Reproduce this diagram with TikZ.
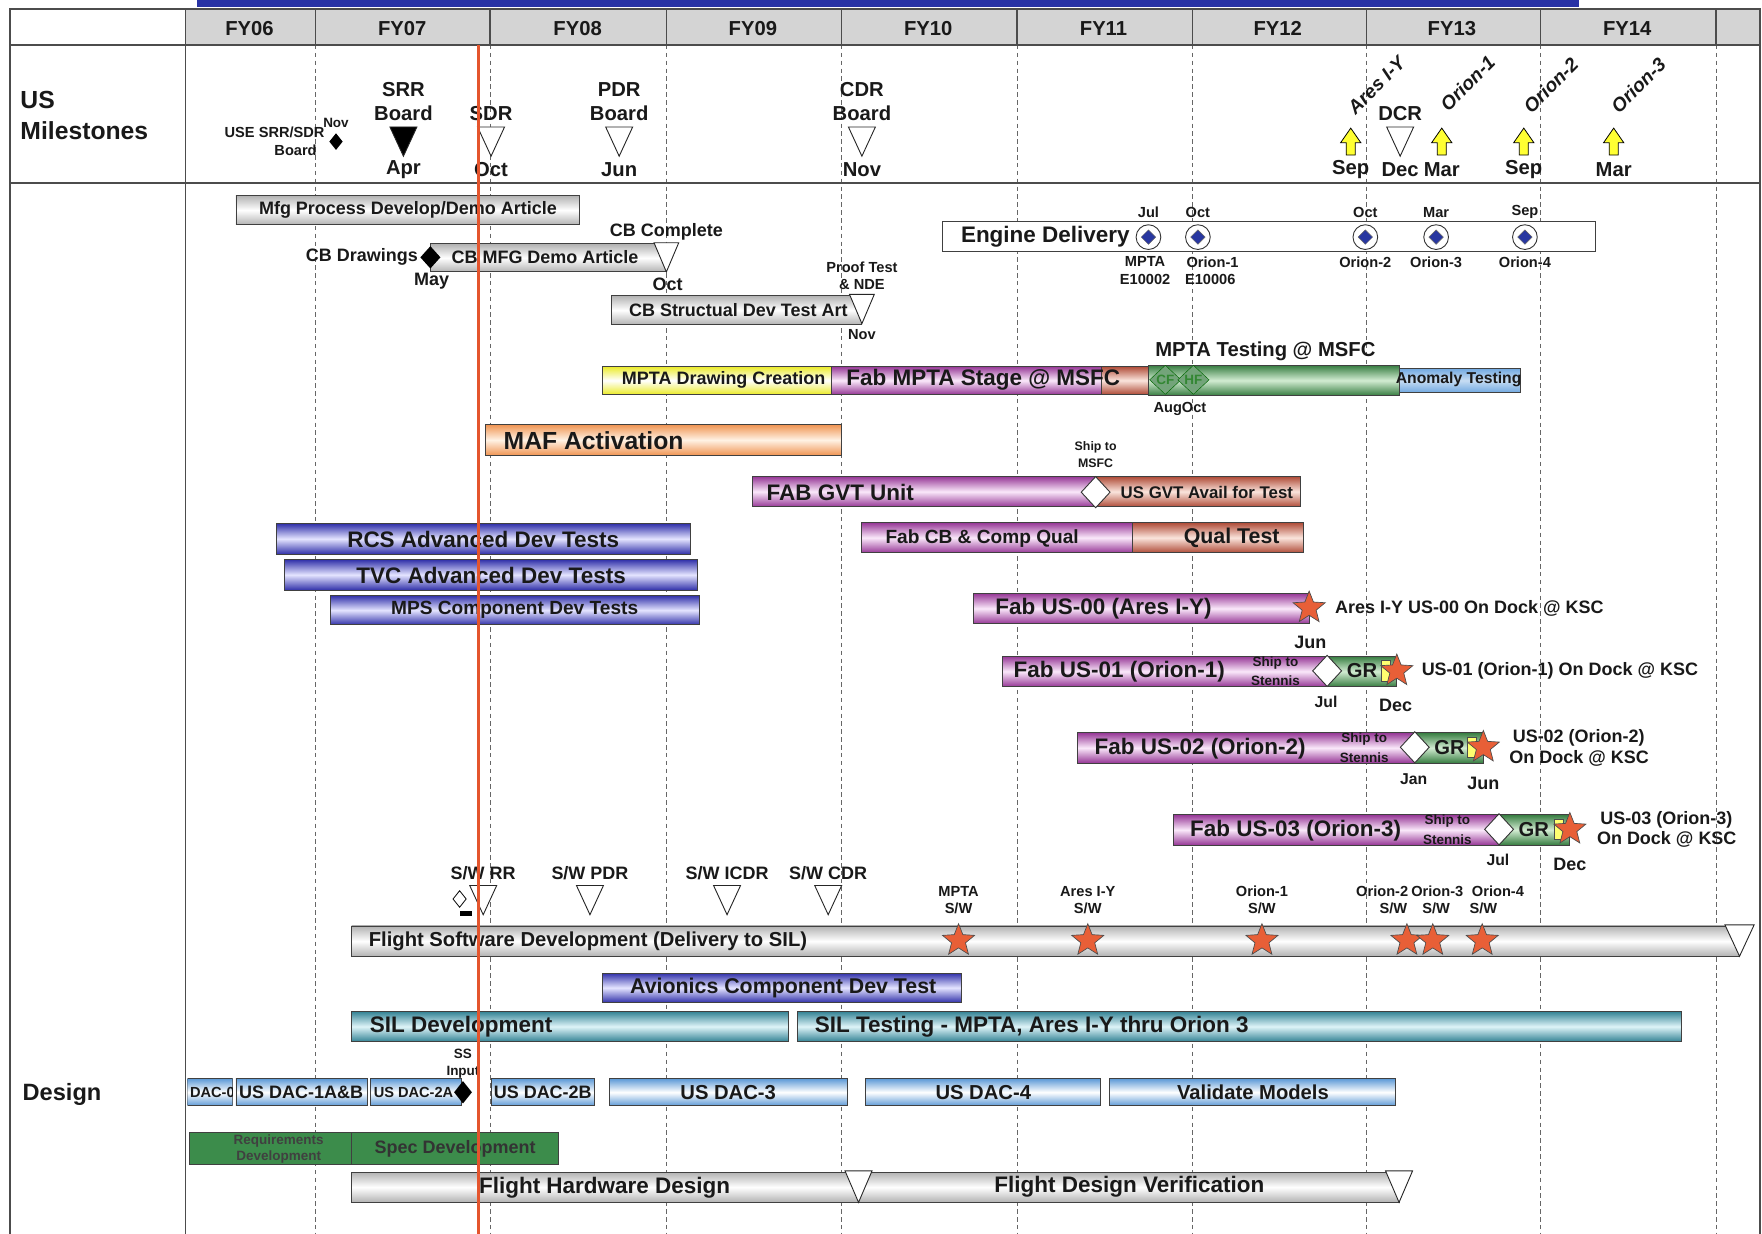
\documentclass[tikz,border=0pt]{standalone}
\usepackage{fontspec}
\setmainfont{Liberation Sans}
\usetikzlibrary{shapes.geometric}
\definecolor{txt}{RGB}{25,25,25}
\definecolor{hdr}{RGB}{212,212,212}
\definecolor{topblue}{RGB}{40,50,165}
\definecolor{redline}{RGB}{228,85,45}
\definecolor{greyE}{RGB}{178,178,178}
\definecolor{purE}{RGB}{150,55,150}
\definecolor{purM}{RGB}{250,232,250}
\definecolor{brnE}{RGB}{175,75,55}
\definecolor{brnM}{RGB}{250,228,220}
\definecolor{grnE}{RGB}{55,125,65}
\definecolor{grnM}{RGB}{210,236,210}
\definecolor{bluE}{RGB}{50,50,170}
\definecolor{bluM}{RGB}{228,228,255}
\definecolor{tealE}{RGB}{50,130,148}
\definecolor{tealM}{RGB}{222,244,248}
\definecolor{lbE}{RGB}{95,155,215}
\definecolor{orE}{RGB}{240,150,85}
\definecolor{orM}{RGB}{255,242,228}
\definecolor{yeE}{RGB}{235,235,40}
\definecolor{anom}{RGB}{115,170,225}
\definecolor{starc}{RGB}{232,95,55}
\definecolor{yarr}{RGB}{255,255,50}
\definecolor{dblue}{RGB}{40,55,160}
\definecolor{reqg}{RGB}{60,140,75}
\newcommand{\tri}[5]{\path[draw=black!85, line width=0.8pt, fill=#5] (#1-#3/2,#2-#4/2) -- (#1+#3/2,#2-#4/2) -- (#1,#2+#4/2) -- cycle;}
\newcommand{\uparr}[2]{\path[draw=black, fill=yarr, line width=0.7pt] (#1-4,#2+12) -- (#1+4,#2+12) -- (#1+4,#2+1) -- (#1+9,#2+1) -- (#1,#2-12) -- (#1-9,#2+1) -- (#1-4,#2+1) -- cycle;}
\tikzset{
  lb/.style={font=\fontsize{#1}{#1}\selectfont\bfseries, inner sep=0pt, text=txt},
  lb/.default=16,
  bar/.style={draw=black!75, line width=0.8pt},
  sh/.style 2 args={bar, top color=#1, bottom color=#1, middle color=#2},
  greyb/.style={sh={greyE}{white}},
  purb/.style={sh={purE}{purM}},
  brnb/.style={sh={brnE}{brnM}},
  grnb/.style={sh={grnE}{grnM}},
  blub/.style={sh={bluE}{bluM}},
  tealb/.style={sh={tealE}{tealM}},
  lbb/.style={sh={lbE}{white}},
  orb/.style={sh={orE}{orM}},
  yeb/.style={sh={yeE}{white}},
  anb/.style={sh={anom}{anom!40}},
  grid/.style={black!60, line width=0.6pt, dash pattern=on 4pt off 3pt},
  frame/.style={black!70, line width=1.3pt},
  starn/.style={star, star points=5, star point ratio=2.3, minimum size=30pt, inner sep=0pt, fill=starc, draw=black!70, line width=0.6pt},
  wdia/.style={diamond, draw=black!80, fill=white, minimum width=26pt, minimum height=28pt, inner sep=0pt, line width=0.8pt},
  rot/.style={font=\fontsize{17}{17}\selectfont\bfseries\itshape, inner sep=0pt, text=txt, rotate=45},
}
\begin{document}
\begin{tikzpicture}[x=1pt,y=-1pt]
\useasboundingbox (0,0) rectangle (1568,1098);
\fill[white] (0,0) rectangle (1568,1098);
% top blue bar
\fill[topblue] (175,0) rectangle (1405,6);
% header
\fill[hdr] (165,8) rectangle (1566,40);
% grid
\foreach \gx in {281,436,593,749,905,1061,1216,1371,1527}{
  \draw[grid] (\gx,40) -- (\gx,1098);
  \draw[frame, line width=1pt] (\gx,8) -- (\gx,40);
}
% frame
\draw[frame] (9,1098) -- (9,8) -- (1566,8) -- (1566,1098);
\draw[frame] (9,40) -- (1566,40);
\draw[frame] (9,163) -- (1566,163);
\draw[frame] (165,8) -- (165,1098);
% header labels
\foreach \fx/\fl in {222/FY06,358/FY07,514/FY08,670/FY09,826/FY10,982/FY11,1137/FY12,1292/FY13,1448/FY14}{
  \node[lb=18] (h\fl) at (\fx,25) {\fl};
}
% row labels
\node[lb=22, anchor=west] (usl1) at (18,89) {US};
\node[lb=22, anchor=west] (usl2) at (18,116) {Milestones};
\node[lb=21, anchor=west] (desl) at (20,974) {Design};

% ---------- milestones row
\node[lb=13, anchor=east] (use1) at (289,118) {USE SRR/SDR};
\node[lb=13, anchor=east] (use2) at (282,134) {Board};
\node[lb=12] (usenov) at (299,109) {Nov};
\node[diamond, fill=black, minimum width=12pt, minimum height=15pt, inner sep=0pt] (usedia) at (299,126) {};
\node[lb=18] (srr1) at (359,80) {SRR};
\node[lb=18] (srr2) at (359,101) {Board};
\tri{359}{126}{24}{26}{black}
\node[lb=18] (srr3) at (359,151) {Apr};
\node[lb=18] (sdr1) at (437,101) {SDR};
\tri{437}{126}{24}{26}{white}
\node[lb=18] (sdr3) at (437,151) {Oct};
\node[lb=18] (pdr1) at (551,80) {PDR};
\node[lb=18] (pdr2) at (551,101) {Board};
\tri{551}{126}{24}{26}{white}
\node[lb=18] (pdr3) at (551,151) {Jun};
\node[lb=18] (cdr1) at (767,80) {CDR};
\node[lb=18] (cdr2) at (767,101) {Board};
\tri{767}{126}{24}{26}{white}
\node[lb=18] (cdr3) at (767,151) {Nov};
\node[lb=18] (dcr1) at (1246,101) {DCR};
\tri{1246}{126}{24}{26}{white}
\node[lb=18] (dcr3) at (1246,151) {Dec};
\uparr{1202}{126}
\uparr{1283}{126}
\uparr{1356}{126}
\uparr{1436}{126}
\node[lb=18] (m1) at (1202,151) {Sep};
\node[lb=18] (m2) at (1283,151) {Mar};
\node[lb=18] (m3) at (1356,151) {Sep};
\node[lb=18] (m4) at (1436,151) {Mar};
\node[rot] (r1) at (1225,76) {Ares I-Y};
\node[rot] (r2) at (1306,74) {Orion-1};
\node[rot] (r3) at (1380,76) {Orion-2};
\node[rot] (r4) at (1458,76) {Orion-3};

% ---------- Mfg / CB rows
\path[greyb] (210,174) rectangle (516,200);
\node[lb=16] (mfg) at (363,187) {Mfg Process Develop/Demo Article};
\node[lb=16] (cbc) at (593,206) {CB Complete};
\path[greyb] (383,217) rectangle (593,242);
\node[lb=16] (cbm) at (485,229) {CB MFG Demo Article};
\tri{593}{229}{22}{26}{white}
\node[diamond, fill=black, minimum width=18pt, minimum height=20pt, inner sep=0pt] (cbd) at (383,229) {};
\node[lb=16, anchor=east] (cbdl) at (372,229) {CB Drawings};
\node[lb=16] (may) at (384,250) {May};
\node[lb=16] (cboct) at (594,253) {Oct};
\node[lb=13] (pt1) at (767,238) {Proof Test};
\node[lb=13] (pt2) at (767,253) {\& NDE};
\path[greyb] (544,263) rectangle (767,289);
\node[lb=16] (cbs) at (657,276) {CB Structual Dev Test Art};
\tri{767}{275}{22}{26}{white}
\node[lb=13] (cbnov) at (767,298) {Nov};

% ---------- Engine delivery
\path[bar, fill=white] (839,197) rectangle (1420,224);
\node[lb=20, anchor=west] (eng) at (855,211) {Engine Delivery};
\foreach \ex/\en in {1022/a,1066/b,1215/c,1278/d,1357/e}{
  \node[circle, draw=black!80, fill=white, minimum size=22pt, inner sep=0pt, line width=0.8pt] (ec\en) at (\ex,211) {};
  \node[diamond, fill=dblue, draw=black!60, minimum size=13pt, inner sep=0pt] (ed\en) at (\ex,211) {};
}
\node[lb=13] (ej1) at (1022,189) {Jul};
\node[lb=13] (ej2) at (1066,189) {Oct};
\node[lb=13] (ej3) at (1215,189) {Oct};
\node[lb=13] (ej4) at (1278,189) {Mar};
\node[lb=13] (ej5) at (1357,189) {Sep};
\node[lb=13] (eb1) at (1019,233) {MPTA};
\node[lb=13] (eb2) at (1019,249) {E10002};
\node[lb=13] (eb3) at (1079,233) {Orion-1};
\node[lb=13] (eb4) at (1077,249) {E10006};
\node[lb=13] (eb5) at (1215,233) {Orion-2};
\node[lb=13] (eb6) at (1278,233) {Orion-3};
\node[lb=13] (eb7) at (1357,233) {Orion-4};

% ---------- MPTA row
\path[yeb] (536,326) rectangle (740,351);
\node[lb=16] (mdc) at (644,338) {MPTA Drawing Creation};
\path[purb] (740,326) rectangle (980,351);
\path[brnb] (980,326) rectangle (1022,351);
\path[grnb] (1022,325) rectangle (1245,352);
\path[anb] (1245,328) rectangle (1353,349);
\node[lb=20] (fms) at (875,338) {Fab MPTA Stage @ MSFC};
\node[diamond, draw=black!60!green, fill=grnE!70, minimum width=28pt, minimum height=26pt, inner sep=0pt] (cfd) at (1037,338) {};
\node[diamond, draw=black!60!green, fill=grnE!70, minimum width=28pt, minimum height=26pt, inner sep=0pt] (hfd) at (1062,338) {};
\node[lb=12, text=black!45!green!60!gray] (cft) at (1037,338) {CF};
\node[lb=12, text=black!45!green!60!gray] (hft) at (1062,338) {HF};
\node[lb=14] (anot) at (1298,338) {Anomaly Testing};
\node[lb=18] (mtm) at (1126,313) {MPTA Testing @ MSFC};
\node[lb=13] (augoct) at (1050,364) {AugOct};

% ---------- MAF
\path[orb] (432,378) rectangle (749,405);
\node[lb=22, anchor=west] (maf) at (448,392) {MAF Activation};

% ---------- GVT
\node[lb=11] (sm1) at (975,398) {Ship to};
\node[lb=11] (sm2) at (975,412) {MSFC};
\path[purb] (670,424) rectangle (975,451);
\path[brnb] (975,424) rectangle (1157,451);
\node[lb=20, anchor=west] (gvt) at (682,438) {FAB GVT Unit};
\node[lb=15] (gvta) at (1074,438) {US GVT Avail for Test};
\node[wdia] (gvtd) at (975,438) {};

% ---------- Fab CB
\path[purb] (767,465) rectangle (1008,492);
\path[brnb] (1008,465) rectangle (1160,492);
\node[lb=17] (fcb) at (874,479) {Fab CB \& Comp Qual};
\node[lb=19] (qt) at (1096,479) {Qual Test};

% ---------- blue dev tests
\path[blub] (246,466) rectangle (614,493);
\node[lb=20] (rcs) at (430,480) {RCS Advanced Dev Tests};
\path[blub] (253,498) rectangle (621,525);
\node[lb=20] (tvc) at (437,512) {TVC Advanced Dev Tests};
\path[blub] (294,530) rectangle (622,556);
\node[lb=17] (mps) at (458,543) {MPS Component Dev Tests};

% ---------- US-00
\path[purb] (866,528) rectangle (1165,555);
\node[lb=20] (us0) at (982,542) {Fab US-00 (Ares I-Y)};
\node[starn] (s0) at (1165,541) {};
\node[lb=16, anchor=west] (us0d) at (1188,541) {Ares I-Y US-00 On Dock @ KSC};
\node[lb=16] (us0m) at (1166,572) {Jun};

% ---------- US-01
\path[purb] (892,584) rectangle (1181,611);
\path[grnb] (1181,584) rectangle (1243,611);
\node[lb=20] (us1) at (996,598) {Fab US-01 (Orion-1)};
\node[lb=12] (us1s1) at (1135,590) {Ship to};
\node[lb=12] (us1s2) at (1135,606) {Stennis};
\node[wdia] (us1dia) at (1181,597) {};
\node[lb=18] (us1gr) at (1212,597) {GR};
\path[draw=black!70, fill=yarr!70, line width=0.5pt] (1229,588) rectangle (1237,606);
\node[starn] (s1) at (1243,597) {};
\node[lb=16, anchor=west] (us1d) at (1265,597) {US-01 (Orion-1) On Dock @ KSC};
\node[lb=14] (us1m1) at (1180,625) {Jul};
\node[lb=16] (us1m2) at (1242,628) {Dec};

% ---------- US-02
\path[purb] (959,652) rectangle (1259,679);
\path[grnb] (1259,652) rectangle (1320,679);
\node[lb=20] (us2) at (1068,666) {Fab US-02 (Orion-2)};
\node[lb=12] (us2s1) at (1214,658) {Ship to};
\node[lb=12] (us2s2) at (1214,674) {Stennis};
\node[wdia] (us2dia) at (1259,665) {};
\node[lb=18] (us2gr) at (1290,665) {GR};
\path[draw=black!70, fill=yarr!70, line width=0.5pt] (1306,656) rectangle (1314,674);
\node[starn] (s2) at (1320,665) {};
\node[lb=16, anchor=west] (us2d1) at (1346,657) {US-02 (Orion-2)};
\node[lb=16, anchor=west] (us2d2) at (1343,675) {On Dock @ KSC};
\node[lb=14] (us2m1) at (1258,693) {Jan};
\node[lb=16] (us2m2) at (1320,697) {Jun};

% ---------- US-03
\path[purb] (1044,725) rectangle (1334,752);
\path[grnb] (1334,725) rectangle (1397,752);
\node[lb=20] (us3) at (1153,739) {Fab US-03 (Orion-3)};
\node[lb=12] (us3s1) at (1288,731) {Ship to};
\node[lb=12] (us3s2) at (1288,747) {Stennis};
\node[wdia] (us3dia) at (1334,738) {};
\node[lb=18] (us3gr) at (1365,738) {GR};
\path[draw=black!70, fill=yarr!70, line width=0.5pt] (1383,729) rectangle (1391,747);
\node[starn] (s3) at (1397,738) {};
\node[lb=16, anchor=west] (us3d1) at (1424,730) {US-03 (Orion-3)};
\node[lb=16, anchor=west] (us3d2) at (1421,747) {On Dock @ KSC};
\node[lb=14] (us3m1) at (1333,765) {Jul};
\node[lb=16] (us3m2) at (1397,769) {Dec};

% ---------- software milestones
\node[lb=16] (swrr) at (430,777) {S/W RR};
\node[lb=16] (swpdr) at (525,777) {S/W PDR};
\node[lb=16] (swicdr) at (647,777) {S/W ICDR};
\node[lb=16] (swcdr) at (737,777) {S/W CDR};
\tri{430}{801}{24}{26}{white}
\tri{525}{801}{24}{26}{white}
\tri{647}{801}{24}{26}{white}
\tri{737}{801}{24}{26}{white}
\node[diamond, draw=black, fill=white, minimum width=12pt, minimum height=15pt, inner sep=0pt, line width=0.7pt] (swd) at (409,800) {};
\fill[black] (409,811) rectangle (420,815);

% ---------- flight software bar
\path[greyb] (313,824) rectangle (1548,851);
\tri{1548}{837}{26}{28}{white}
\node[lb=18, anchor=west] (fsw) at (328,838) {Flight Software Development (Delivery to SIL)};
\foreach \sx/\sn in {853/a,968/b,1123/c,1252/d,1275/e,1319/f}{
  \node[starn] (fs\sn) at (\sx,837) {};
}
\node[lb=13] (fl1) at (853,793) {MPTA};
\node[lb=13] (fl1b) at (853,808) {S/W};
\node[lb=13] (fl2) at (968,793) {Ares I-Y};
\node[lb=13] (fl2b) at (968,808) {S/W};
\node[lb=13] (fl3) at (1123,793) {Orion-1};
\node[lb=13] (fl3b) at (1123,808) {S/W};
\node[lb=13] (fl4) at (1230,793) {Orion-2};
\node[lb=13] (fl4b) at (1240,808) {S/W};
\node[lb=13] (fl5) at (1279,793) {Orion-3};
\node[lb=13] (fl5b) at (1278,808) {S/W};
\node[lb=13] (fl6) at (1333,793) {Orion-4};
\node[lb=13] (fl6b) at (1320,808) {S/W};

% ---------- avionics, SIL
\path[blub] (536,866) rectangle (856,892);
\node[lb=19] (avi) at (697,879) {Avionics Component Dev Test};
\path[tealb] (313,900) rectangle (702,927);
\node[lb=20, anchor=west] (sild) at (329,914) {SIL Development};
\path[tealb] (710,900) rectangle (1496,927);
\node[lb=20, anchor=west] (silt) at (725,914) {SIL Testing - MPTA, Ares I-Y thru Orion 3};

% ---------- DAC row
\begin{scope}
\clip (167,958) rectangle (207,986);
\path[lbb] (167,960) rectangle (207,984);
\node[lb=13] (dac0) at (189,972) {DAC-0};
\end{scope}
\path[lbb] (210,960) rectangle (327,984);
\node[lb=16] (dac1) at (268,972) {US DAC-1A\&B};
\path[lbb] (330,960) rectangle (411,984);
\node[lb=13] (dac2a) at (368,972) {US DAC-2A};
\node[diamond, fill=black, minimum width=16pt, minimum height=20pt, inner sep=0pt] (ssd) at (412,972) {};
\node[lb=12] (ss1) at (412,938) {SS};
\node[lb=12] (ss2) at (412,954) {Input};
\path[lbb] (437,960) rectangle (529,984);
\node[lb=16] (dac2b) at (483,972) {US DAC-2B};
\path[lbb] (542,960) rectangle (754,984);
\node[lb=18] (dac3) at (648,972) {US DAC-3};
\path[lbb] (770,960) rectangle (979,984);
\node[lb=18] (dac4) at (875,972) {US DAC-4};
\path[lbb] (987,960) rectangle (1242,984);
\node[lb=18] (valm) at (1115,972) {Validate Models};

% ---------- requirements/spec
\path[bar, fill=reqg] (169,1008) rectangle (313,1036);
\path[bar, fill=reqg] (313,1008) rectangle (497,1036);
\node[lb=12, text=black!75] (req1) at (248,1015) {Requirements};
\node[lb=12, text=black!75] (req2) at (248,1030) {Development};
\node[lb=16, text=black!80] (spec) at (405,1022) {Spec Development};

% ---------- flight hardware design
\path[greyb] (313,1043) rectangle (1245,1070);
\tri{764}{1056}{24}{28}{white}
\tri{1245}{1056}{24}{28}{white}
\node[lb=20] (fhd) at (538,1057) {Flight Hardware Design};
\node[lb=20] (fdv) at (1005,1056) {Flight Design Verification};

% current date line
\draw[redline, line width=2.3pt] (426,40) -- (426,1098);
\end{tikzpicture}
\end{document}
